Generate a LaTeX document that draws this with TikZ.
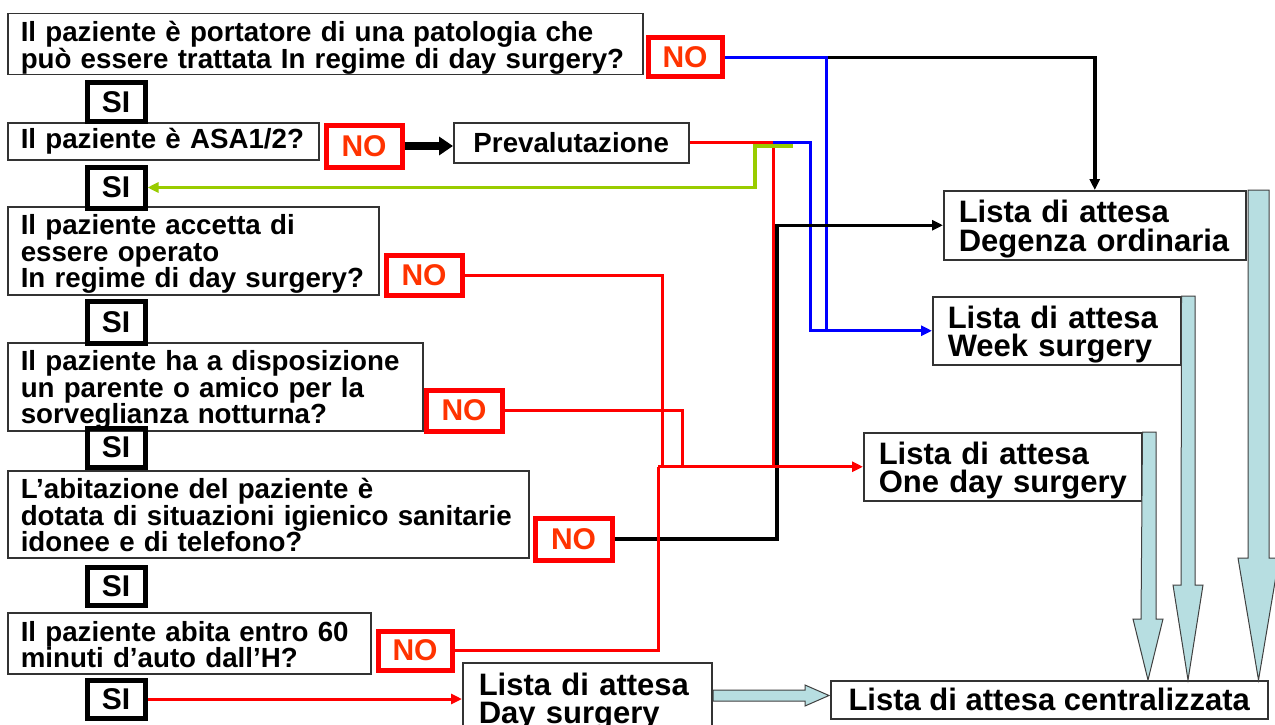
\documentclass[tikz,border=0pt]{standalone}
\usepackage{fontspec}
\setmainfont{Liberation Sans}
\usetikzlibrary{arrows.meta,calc}
\definecolor{nored}{HTML}{FF0000}
\definecolor{notext}{HTML}{FF3300}
\definecolor{lnblue}{HTML}{0000FF}
\definecolor{lngreen}{HTML}{99CC00}
\definecolor{blockfill}{HTML}{B7DEE1}
\definecolor{boxline}{HTML}{333333}
\normallineskiplimit=-30pt
\lineskiplimit=-30pt
\newcommand\qfont{\bfseries\fontsize{27.7}{26.5}\selectfont}
\newcommand\lfont{\bfseries\fontsize{31}{28.5}\selectfont}
\newcommand\nfont{\bfseries\fontsize{30}{30}\selectfont}
\newcommand\tline[1]{\mbox{\rule[-5pt]{0pt}{32pt}#1}}
\newcommand\lline[1]{\mbox{\rule[-5pt]{0pt}{35pt}#1}}
\begin{document}
\begin{tikzpicture}[x=1pt,y=-1pt,
  qbox/.style={draw=boxline, line width=1.5pt, anchor=north west, inner xsep=13pt, inner ysep=0pt, align=left,
    font=\qfont},
  lbox/.style={draw=boxline, line width=1.5pt, anchor=north west, inner xsep=15pt, inner ysep=0pt, align=left,
    font=\lfont},
  nobox/.style={draw=nored, line width=5pt, anchor=north west, inner sep=0pt, text=notext,
    font=\nfont},
  sibox/.style={draw=black, line width=5pt, anchor=north west, inner sep=0pt,
    font=\nfont},
  tip/.style={-{Triangle[length=11pt 0 0,width=10pt 0 0]}},
  rd/.style={draw=nored, line width=3pt},
  bl/.style={draw=lnblue, line width=3pt},
  bk/.style={draw=black, line width=3.5pt},
  gr/.style={draw=lngreen, line width=3.5pt},
  blk/.style={fill=blockfill, draw=black!75, line width=1pt, line join=miter}
]
\useasboundingbox (0,0) rectangle (1275,725);
\fill[white] (0,0) rectangle (1275,725);
\clip (0,0) rectangle (1275,725);

% questions
\node[qbox, minimum width=635pt, minimum height=61pt, text width=609pt] (q1) at (7,13)
  {\tline{Il paziente è portatore di una patologia che}\\\tline{può essere trattata In regime di day surgery?}};
\node[qbox, minimum width=311pt, minimum height=37pt, text width=285pt] (q2) at (7,122)
  {\mbox{Il paziente è ASA1/2?}};
\node[qbox, minimum width=371pt, minimum height=88pt, text width=345pt] (q3) at (7,206)
  {\tline{Il paziente accetta di}\\\tline{essere operato}\\\tline{In regime di day surgery?}};
\node[qbox, minimum width=415pt, minimum height=88pt, text width=389pt] (q4) at (7,342)
  {\tline{Il paziente ha a disposizione}\\\tline{un parente o amico per la}\\\tline{sorveglianza notturna?}};
\node[qbox, minimum width=521pt, minimum height=87pt, text width=495pt] (q5) at (7,470)
  {\tline{L’abitazione del paziente è}\\\tline{dotata di situazioni igienico sanitarie}\\\tline{idonee e di telefono?}};
\node[qbox, minimum width=363pt, minimum height=61pt, text width=337pt] (q6) at (7,612)
  {\tline{Il paziente abita entro 60}\\\tline{minuti d’auto dall’H?}};

% NO boxes
\node[nobox, minimum width=74pt, minimum height=39pt] (no1) at (645.5,35.5) {NO};
\node[nobox, minimum width=76pt, minimum height=42pt] (no2) at (323.5,122.5) {NO};
\node[nobox, minimum width=76pt, minimum height=40pt] (no3) at (383.5,252.5) {NO};
\node[nobox, minimum width=76pt, minimum height=41pt] (no4) at (423.5,387.5) {NO};
\node[nobox, minimum width=77pt, minimum height=42pt] (no5) at (532.5,515.5) {NO};
\node[nobox, minimum width=74pt, minimum height=39pt] (no6) at (375.5,628.5) {NO};

% SI boxes
\node[sibox, minimum width=58pt, minimum height=38pt] (si1) at (84.5,80.5) {SI};
\node[sibox, minimum width=58pt, minimum height=41pt] (si2) at (84.5,164.5) {SI};
\node[sibox, minimum width=58pt, minimum height=42pt] (si3) at (84.5,298.5) {SI};
\node[sibox, minimum width=58pt, minimum height=39pt] (si4) at (84.5,425.5) {SI};
\node[sibox, minimum width=58pt, minimum height=38pt] (si5) at (84.5,564.5) {SI};
\node[sibox, minimum width=58pt, minimum height=38pt] (si6) at (84.5,677.5) {SI};

% other boxes
\node[qbox, minimum width=235pt, minimum height=40pt, inner xsep=0pt, align=center] (prev) at (453,122) {Prevalutazione};
\node[lbox, minimum width=302pt, minimum height=69pt, text width=272pt] (deg) at (943,190)
  {\lline{Lista di attesa}\\\lline{Degenza ordinaria}};
\node[lbox, minimum width=248pt, minimum height=68pt, text width=218pt] (week) at (932,296)
  {\lline{Lista di attesa}\\\lline{Week surgery}};
\node[lbox, minimum width=278pt, minimum height=68pt, text width=248pt] (oneday) at (863,432)
  {\lline{Lista di attesa}\\\lline{One day surgery}};
\node[lbox, minimum width=249pt, minimum height=70pt, text width=217pt, inner xsep=16pt] (ds) at (462,662)
  {\lline{Lista di attesa}\\\lline{Day surgery}};
\node[lbox, minimum width=437pt, minimum height=38pt, inner xsep=0pt, align=center] (cent) at (830,680)
  {Lista di attesa centralizzata};

% helper x positions
\coordinate (xb1) at (826,0);
\coordinate (xb2) at (810,0);
\coordinate (xr) at (773,0);
\coordinate (xk5) at (777,0);
\coordinate (xr3) at (662,0);
\coordinate (xr4) at (682,0);
\coordinate (xr6) at (658,0);
\coordinate (xg2) at (755,0);
\coordinate (g1) at (793,146);

% connectors
\draw[bk, tip] (no1.east -| xb1) -| (deg.north);
\draw[bl, tip] (no1.east) -- (no1.east -| xb1) |- (week.west);
\draw[rd] (prev.east) -| (xr |- oneday.west);
\draw[bl] (prev.east -| xr) -| (xb2 |- week.west) -- (xb1 |- week.west);
\draw[gr, tip] (g1) -| (xg2 |- si2.east) -- (si2.east);
\draw[bk, tip] (no5.east) -| (xk5 |- deg.west) -- (deg.west);
\draw[rd] (no3.east) -| (xr3 |- oneday.west);
\draw[rd] (no4.east) -| (xr4 |- oneday.west);
\draw[rd] (no6.east) -| (xr6 |- oneday.west);
\draw[rd, tip] (xr6 |- oneday.west) -- (oneday.west);
\draw[rd, tip] (si6.east) -- (ds.west |- si6.east);
\draw[line width=8pt, -{Triangle[length=14pt 0 0,width=18pt 0 0]}] (no2.east) -- (prev.west |- no2.east);

% block arrows
\draw[blk] (oneday.north east) -- (1156,432) -- (1156,619) -- (1163,619) -- (1148,680) -- (1133,619) -- (1141,619) -- cycle;
\draw[blk] (week.north east) -- (1195,296) -- (1195,585) -- (1203,585) -- (1188,680) -- (1173,585) -- (1181,585) -- cycle;
\draw[blk] (1248,190) -- (1269,190) -- (1269,558) -- (1279,558) -- (1258.5,680) -- (1238,558) -- (1248,558) -- cycle;
\draw[blk] (713,690) -- (805,690) -- (805,685) -- (829,695.5) -- (805,706) -- (805,701) -- (713,701) -- cycle;
\end{tikzpicture}
\end{document}
